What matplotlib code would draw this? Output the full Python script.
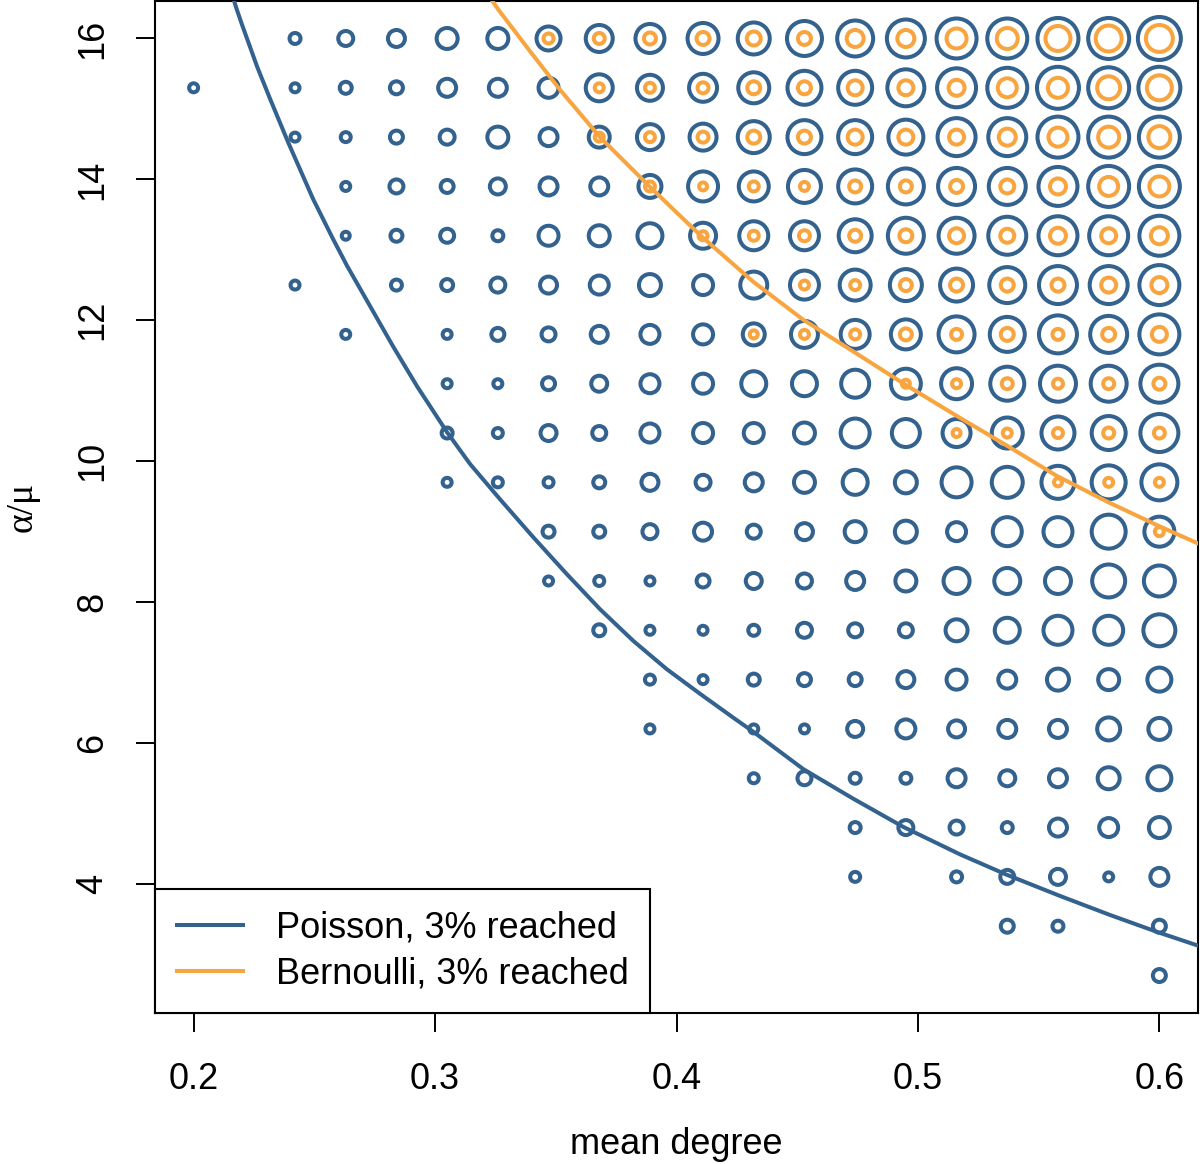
import numpy as np
import matplotlib.pyplot as plt
from matplotlib.lines import Line2D

plt.rcParams['font.family'] = ['Liberation Sans', 'DejaVu Sans']

# simulation grid
mean_degree = [0.2, 0.221, 0.242, 0.263, 0.284, 0.305, 0.326, 0.347, 0.368, 0.389,
               0.411, 0.432, 0.453, 0.474, 0.495, 0.516, 0.537, 0.558, 0.579, 0.6]
alpha_mu = [16.0, 15.3, 14.6, 13.9, 13.2, 12.5, 11.8, 11.1, 10.4, 9.7,
            9.0, 8.3, 7.6, 6.9, 6.2, 5.5, 4.8, 4.1, 3.4, 2.7]

# outcome per grid cell (0 = no point), rows follow alpha_mu, columns mean_degree
poisson_reach = [
    [0, 0, 15, 19, 21, 25, 25, 28, 31, 33, 35, 36, 39, 40, 42, 44, 44, 45, 45, 47],
    [13, 0, 13, 16, 17, 22, 22, 24, 31, 30, 32, 35, 38, 38, 41, 43, 44, 46, 45, 46],
    [0, 0, 13, 14, 17, 19, 25, 22, 25, 30, 31, 36, 38, 38, 39, 42, 42, 45, 45, 45],
    [0, 0, 0, 13, 18, 17, 20, 22, 22, 27, 34, 34, 37, 38, 40, 41, 41, 43, 45, 45],
    [0, 0, 0, 12, 16, 18, 15, 24, 25, 29, 30, 33, 33, 37, 40, 40, 42, 43, 43, 44],
    [0, 0, 13, 0, 15, 16, 19, 21, 23, 26, 24, 31, 33, 35, 36, 37, 40, 42, 42, 44],
    [0, 0, 0, 13, 0, 13, 17, 18, 21, 23, 24, 26, 31, 33, 34, 40, 39, 42, 41, 44],
    [0, 0, 0, 0, 0, 13, 13, 17, 20, 23, 24, 29, 29, 32, 34, 35, 38, 40, 40, 42],
    [0, 0, 0, 0, 0, 15, 14, 20, 18, 23, 24, 24, 25, 33, 32, 32, 35, 37, 38, 42],
    [0, 0, 0, 0, 0, 13, 14, 14, 16, 21, 19, 22, 25, 29, 26, 34, 35, 37, 38, 40],
    [0, 0, 0, 0, 0, 0, 0, 16, 16, 19, 22, 18, 21, 25, 26, 23, 33, 33, 38, 34],
    [0, 0, 0, 0, 0, 0, 0, 13, 14, 13, 17, 20, 19, 22, 25, 30, 30, 30, 37, 35],
    [0, 0, 0, 0, 0, 0, 0, 0, 16, 13, 13, 15, 19, 18, 18, 26, 29, 33, 33, 36],
    [0, 0, 0, 0, 0, 0, 0, 0, 0, 14, 13, 16, 17, 17, 21, 24, 22, 26, 25, 28],
    [0, 0, 0, 0, 0, 0, 0, 0, 0, 13, 0, 13, 13, 20, 23, 21, 22, 22, 27, 26],
    [0, 0, 0, 0, 0, 0, 0, 0, 0, 0, 0, 14, 18, 15, 15, 22, 20, 22, 26, 28],
    [0, 0, 0, 0, 0, 0, 0, 0, 0, 0, 0, 0, 0, 15, 19, 18, 15, 22, 23, 25],
    [0, 0, 0, 0, 0, 0, 0, 0, 0, 0, 0, 0, 0, 14, 0, 15, 18, 20, 13, 22],
    [0, 0, 0, 0, 0, 0, 0, 0, 0, 0, 0, 0, 0, 0, 0, 0, 17, 15, 0, 17],
    [0, 0, 0, 0, 0, 0, 0, 0, 0, 0, 0, 0, 0, 0, 0, 0, 0, 0, 0, 17],
]
bernoulli_reach = [
    [0, 0, 0, 0, 0, 0, 0, 14, 15, 16, 17, 18, 17, 21, 21, 24, 25, 29, 30, 31],
    [0, 0, 0, 0, 0, 0, 0, 0, 13, 14, 15, 17, 17, 19, 19, 20, 23, 24, 27, 29],
    [0, 0, 0, 0, 0, 0, 0, 0, 13, 14, 15, 17, 17, 19, 19, 19, 21, 23, 25, 26],
    [0, 0, 0, 0, 0, 0, 0, 0, 0, 14, 12, 14, 13, 16, 16, 17, 18, 20, 23, 24],
    [0, 0, 0, 0, 0, 0, 0, 0, 0, 0, 13, 14, 15, 16, 17, 19, 18, 20, 19, 21],
    [0, 0, 0, 0, 0, 0, 0, 0, 0, 0, 0, 0, 13, 14, 16, 17, 17, 17, 19, 20],
    [0, 0, 0, 0, 0, 0, 0, 0, 0, 0, 0, 12, 13, 14, 16, 15, 17, 15, 17, 19],
    [0, 0, 0, 0, 0, 0, 0, 0, 0, 0, 0, 0, 0, 0, 12, 13, 15, 14, 15, 16],
    [0, 0, 0, 0, 0, 0, 0, 0, 0, 0, 0, 0, 0, 0, 0, 12, 13, 14, 15, 15],
    [0, 0, 0, 0, 0, 0, 0, 0, 0, 0, 0, 0, 0, 0, 0, 0, 0, 12, 13, 13],
    [0, 0, 0, 0, 0, 0, 0, 0, 0, 0, 0, 0, 0, 0, 0, 0, 0, 0, 0, 13],
] + [[0] * 20 for _ in range(9)]

# 3% reached contours
poisson_x = [0.2166, 0.2179, 0.2200, 0.2263, 0.2317, 0.2391, 0.2495, 0.2578, 0.2636,
             0.2731, 0.2826, 0.2926, 0.3050, 0.3145, 0.3269, 0.3407, 0.3545, 0.3683,
             0.3821, 0.3959, 0.4097, 0.4235, 0.4318, 0.4525, 0.4732, 0.4939, 0.5174,
             0.5368, 0.5588, 0.5795, 0.5998, 0.6155]
poisson_y = [16.55, 16.41, 16.20, 15.60, 15.14, 14.53, 13.72, 13.15, 12.77,
             12.20, 11.63, 11.06, 10.41, 9.96, 9.46, 8.92, 8.40, 7.90,
             7.45, 7.05, 6.70, 6.36, 6.16, 5.63, 5.21, 4.81, 4.42,
             4.13, 3.83, 3.56, 3.31, 3.13]
bernoulli_x = [0.3234, 0.3262, 0.3393, 0.3518, 0.3683, 0.3897, 0.4104, 0.4317, 0.4524,
               0.4731, 0.4946, 0.5162, 0.5369, 0.5576, 0.5787, 0.5998, 0.6155]
bernoulli_y = [16.55, 16.41, 15.82, 15.27, 14.60, 13.87, 13.19, 12.55, 12.01,
               11.56, 11.09, 10.64, 10.22, 9.79, 9.42, 9.08, 8.84]

blue = '#33628F'
orange = '#F8A53F'
ring = 2.9  # pt

fig = plt.figure(figsize=(12, 11.64), dpi=100)
ax = fig.add_axes([155/1200, 1 - 1013/1164, 1043/1200, 1012/1164])

X, Y = np.meshgrid(mean_degree, alpha_mu)
for vals, col in [(poisson_reach, blue), (bernoulli_reach, orange)]:
    v = np.array(vals, float)
    m = v > 0
    ax.scatter(X[m], Y[m], s=(v[m] * 0.72 - ring) ** 2, facecolors='none',
               edgecolors=col, linewidths=ring, zorder=2)

ax.plot(poisson_x, poisson_y, color=blue, lw=2.9, zorder=3)
ax.plot(bernoulli_x, bernoulli_y, color=orange, lw=2.9, zorder=3)

ax.set_xlim(0.184, 0.616)
ax.set_ylim(2.168, 16.532)
ax.set_xticks([0.2, 0.3, 0.4, 0.5, 0.6])
ax.set_xticklabels(['0.2', '0.3', '0.4', '0.5', '0.6'])
ax.set_yticks([4, 6, 8, 10, 12, 14, 16])
ax.tick_params(length=14, width=1.4, labelsize=26)
ax.tick_params(axis='x', pad=21)
ax.tick_params(axis='y', pad=18)
for lab in ax.get_yticklabels():
    lab.set_rotation(90)
    lab.set_va('center')
for s in ax.spines.values():
    s.set_linewidth(1.5)

ax.set_xlabel('mean degree', fontsize=26, labelpad=22)
ax.set_ylabel('α/μ', fontsize=27, family=['Liberation Serif', 'DejaVu Serif'], labelpad=26)

handles = [Line2D([], [], color=blue, lw=2.9), Line2D([], [], color=orange, lw=2.9)]
leg = ax.legend(handles, ['Poisson, 3% reached', 'Bernoulli, 3% reached'],
                loc='lower left', borderaxespad=0, fancybox=False, framealpha=1,
                edgecolor='black', fontsize=26, handlelength=1.85, handletextpad=0.9,
                borderpad=0.6, labelspacing=0.3)
leg.get_frame().set_linewidth(1.5)

fig.savefig('out.png', dpi=100)
